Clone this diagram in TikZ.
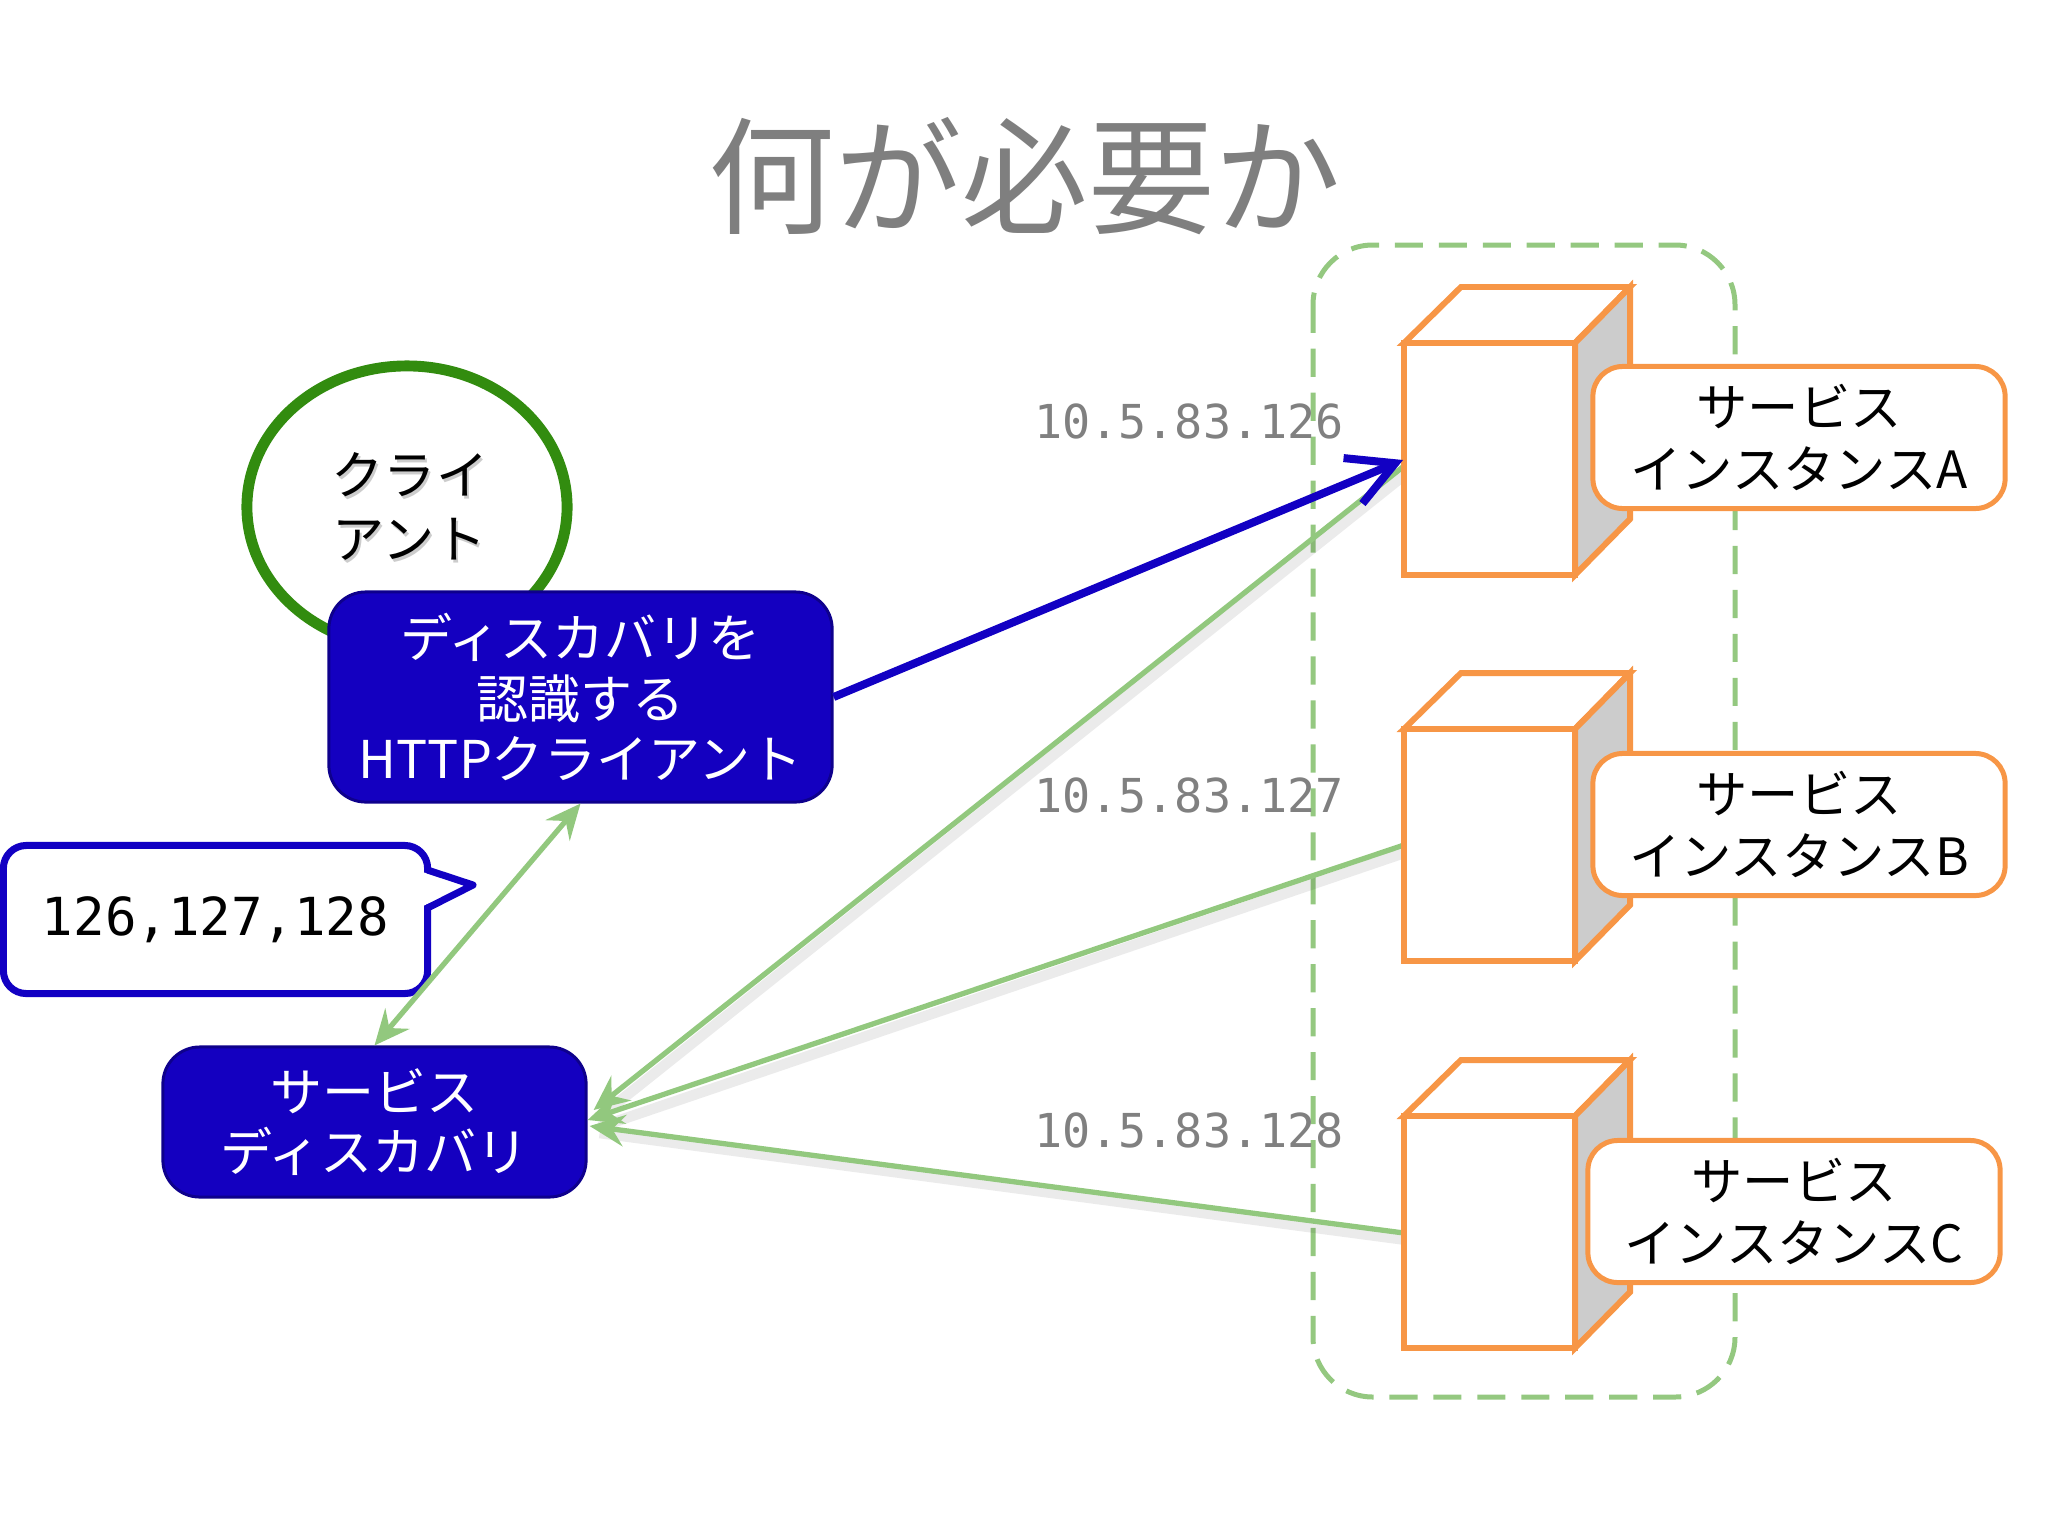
\documentclass[tikz,border=0pt]{standalone}
\usepackage{fontspec}
\setmainfont{Noto Sans CJK JP}
\newfontfamily\monofont{DejaVu Sans Mono}
\usetikzlibrary{arrows.meta,calc,shapes.geometric}
\definecolor{titlegray}{RGB}{127,127,127}
\definecolor{ipgray}{RGB}{128,128,128}
\definecolor{orangeC}{RGB}{247,150,70}
\definecolor{sidegray}{RGB}{204,204,204}
\definecolor{greenL}{RGB}{146,200,126}
\definecolor{dashgreen}{RGB}{148,200,128}
\definecolor{blueF}{RGB}{20,0,192}
\definecolor{blueD}{RGB}{14,0,140}
\definecolor{blueC}{RGB}{18,0,195}
\definecolor{cgreen}{RGB}{50,140,15}
\begin{document}
\begin{tikzpicture}[x=0.01cm,y=-0.01cm,
  bluebox/.style={draw=blueD, line width=0.85pt, fill=blueF, rounded corners=10.5pt,
    text=white, align=center, font=\fontsize{14.8pt}{17.3pt}\selectfont, inner sep=0pt},
  lbl/.style={draw=orangeC, line width=1.42pt, fill=white, rounded corners=8.5pt,
    align=center, font=\fontsize{14.6pt}{17.8pt}\selectfont,
    minimum width=4.12cm, minimum height=1.42cm, inner sep=0pt},
  srv/.style={draw=orangeC, line width=1.7pt, line join=miter},
  gline/.style={draw=greenL, line width=1.5pt},
  gshadow/.style={draw=black, opacity=0.08, line width=3pt},
  ghead/.style={-{Stealth[length=10pt,width=9pt,inset=3.5pt]}},
  iplbl/.style={text=ipgray, font=\monofont\fontsize{13.3pt}{16pt}\selectfont, inner sep=0pt},
  callbox/.style={draw=blueC, line width=2pt, fill=white, rounded corners=6.5pt,
    minimum width=4.24cm, minimum height=1.48cm, inner sep=0pt,
    font=\monofont\fontsize{14.9pt}{18pt}\selectfont},
  ctext/.style={align=center, font=\fontsize{14.8pt}{18.2pt}\selectfont, inner sep=0pt},
]
\useasboundingbox (0,0) rectangle (2048,1536);

% title
\node[text=titlegray, font=\fontsize{36pt}{40pt}\selectfont, inner sep=0pt] (title) at (1025,176) {何が必要か};

% container
\draw[dashgreen, line width=1.42pt, dash pattern=on 8pt off 4.5pt, rounded corners=17pt]
  (1313,245) rectangle (1735,1397);

% anchor points on servers
\coordinate (srvAin) at (1403,460);
\coordinate (srvAout) at (1404,466);
\coordinate (srvBout) at (1404,845);
\coordinate (srvCout) at (1404,1233);

% client ellipse
\node[draw=cgreen, line width=3.1pt, ellipse, fill=white, minimum width=3.2cm,
  minimum height=2.82cm, inner sep=0pt] (client) at (407,507) {};
\node[ctext, text=black!20] (clientsh) at (412,509) {クライ\\アント};
\node[ctext] (clienttxt) at (410,506) {クライ\\アント};

% blue boxes
\node[bluebox, minimum width=5.03cm, minimum height=2.1cm] (httpbox) at (580.5,697)
  {ディスカバリを\\認識する\\HTTPクライアント};
\node[bluebox, minimum width=4.23cm, minimum height=1.5cm] (disc) at (374.5,1122)
  {サービス\\ディスカバリ};

% callout
\node[callbox] (ips) at (215.5,919.5) {126,127,128};
\coordinate (ptip) at (473,885);
\fill[white] (418,871) -- (ptip) -- (418,908) -- cycle;
\draw[blueC, line width=2pt, line join=round] (427.5,870) -- (ptip) -- (427.5,908);

% green connectors (shadows)
\draw[gshadow] ($(srvAout)+(3,7)$) -- ($(disc.east)+(12,-5)$);
\draw[gshadow] ($(srvBout)+(3,7)$) -- ($(disc.east)+(12,5)$);
\draw[gshadow] ($(srvCout)+(3,7)$) -- ($(disc.east)+(12,11)$);
% green connectors
\draw[gline, ghead] (srvAout) -- ($(disc.east)+(6,-12)$);
\draw[gline, ghead] (srvBout) -- ($(disc.east)+(0,-2)$);
\draw[gline, ghead] (srvCout) -- ($(disc.east)+(2,4)$);
\draw[gline, {Stealth[length=10pt,width=9pt,inset=3.5pt]}-{Stealth[length=10pt,width=9pt,inset=3.5pt]}]
  (httpbox.south) -- (disc.north);

% servers
\foreach \y/\n in {343/A,729/B,1116/C}{
  \draw[srv, fill=white] (1404,\y) -- (1461,\y-56) -- (1630,\y-56) -- (1575,\y) -- cycle;
  \draw[srv, fill=sidegray] (1575,\y) -- (1630,\y-56) -- (1630,\y+176) -- (1575,\y+232) -- cycle;
  \draw[srv, fill=white] (1404,\y) rectangle (1575,\y+232);
}

% labels
\node[lbl] (lblA) at (1799,437.5) {サービス\\インスタンスA};
\node[lbl] (lblB) at (1799,824.5) {サービス\\インスタンスB};
\node[lbl] (lblC) at (1794,1211.5) {サービス\\インスタンスC};

% IP labels
\node[iplbl] (ipA) at (1189,421) {10.5.83.126};
\node[iplbl] (ipB) at (1189,795) {10.5.83.127};
\node[iplbl] (ipC) at (1189,1130) {10.5.83.128};

% blue arrow
\draw[blueC, line width=2.28pt, -{Straight Barb[length=13pt,width=14pt]}]
  (httpbox.east) -- (srvAin);
\end{tikzpicture}
\end{document}
